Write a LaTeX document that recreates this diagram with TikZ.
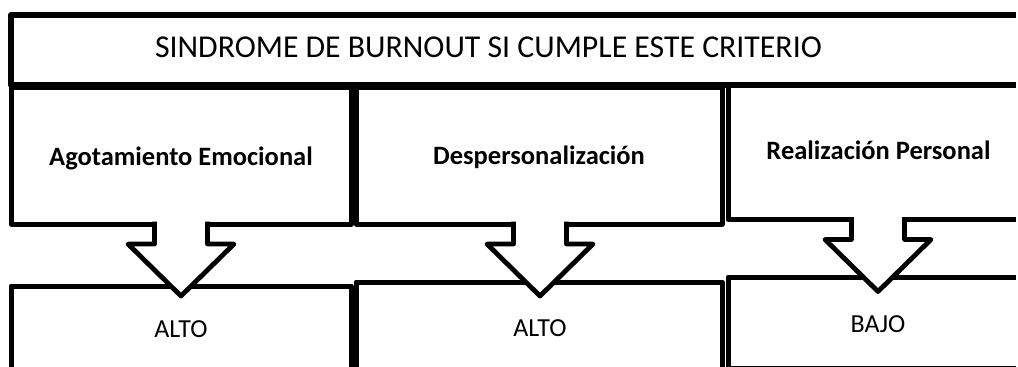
\documentclass[tikz,border=0pt]{standalone}
\usepackage{fontspec}
\setmainfont{Carlito}
\begin{document}
\begin{tikzpicture}[x=1pt,y=-1pt,line join=round,
  box/.style={draw,line width=5pt,fill=white,inner sep=0pt,outer sep=0pt},
  openbox/.style={line width=5pt,inner sep=0pt,outer sep=0pt},
  head/.style={anchor=base,font=\bfseries\fontsize{26.5}{31}\selectfont,inner sep=0pt},
  val/.style={anchor=base,font=\fontsize{26}{31}\selectfont,inner sep=0pt},
  ttl/.style={anchor=base,font=\fontsize{31.8}{37}\selectfont,inner sep=0pt},
  arrowfill/.style={fill=white},
  arrowline/.style={draw,line width=4.8pt,line cap=rect}]
\useasboundingbox (0,0) rectangle (1018,367);
% title (open to the right)
\node[openbox,minimum width=1004.5pt,minimum height=70pt,anchor=north west] (tb) at (11,15) {};
\draw[line width=6pt] (tb.north east) -- (tb.north west) -- (tb.south west) -- (tb.south east);
% upper boxes
\node[box,minimum width=340pt,minimum height=137pt,anchor=north west] (ae) at (11,87) {};
\node[box,minimum width=366pt,minimum height=137pt,anchor=north west] (dp) at (356,87) {};
\node[openbox,minimum width=287.5pt,minimum height=134pt,anchor=north west] (rp) at (728,85.5) {};
\fill[white] (rp.north west) rectangle (rp.south east);
\draw[line width=5pt] (rp.north east) -- (rp.north west) -- (rp.south west) -- (rp.south east);
% lower boxes
\node[box,minimum width=340pt,minimum height=100pt,anchor=north west] (a1) at (11,286) {};
\node[box,minimum width=366pt,minimum height=100pt,anchor=north west] (a2) at (356,282) {};
\node[openbox,minimum width=287.5pt,minimum height=91pt,anchor=north west] (b3) at (728,277) {};
\fill[white] (b3.north west) rectangle (b3.south east);
\draw[line width=5pt] (b3.north east) -- (b3.north west) -- (b3.south west) -- (b3.south east);
% block arrows
\foreach \src/\cx in {ae/181,dp/540,rp/878}{
  \coordinate (top) at (\cx,0 |- \src.south);
  \fill[arrowfill] ([shift={(-26.5,-3)}]top) -- ++(0,23) -- ++(-26.5,0) -- ++(53,52) -- ++(53,-52) -- ++(-26.5,0) -- ++(0,-23) -- cycle;
  \draw[arrowline] ([shift={(-26.5,0)}]top) -- ++(0,20) -- ++(-26.5,0) -- ++(53,52) -- ++(53,-52) -- ++(-26.5,0) -- ++(0,-20);
}
% texts
\node[ttl] (tt) at (488.5,57.7) {SINDROME DE BURNOUT SI CUMPLE ESTE CRITERIO};
\node[head] (hae) at (181,165) {Agotamiento Emocional};
\node[head] (hdp) at (539,164) {Despersonalización};
\node[head] (hrp) at (878.5,159) {Realización Personal};
\node[val] (v1) at (181,337) {ALTO};
\node[val] (v2) at (540,336.7) {ALTO};
\node[val] (v3) at (878,332) {BAJO};
\end{tikzpicture}
\end{document}
